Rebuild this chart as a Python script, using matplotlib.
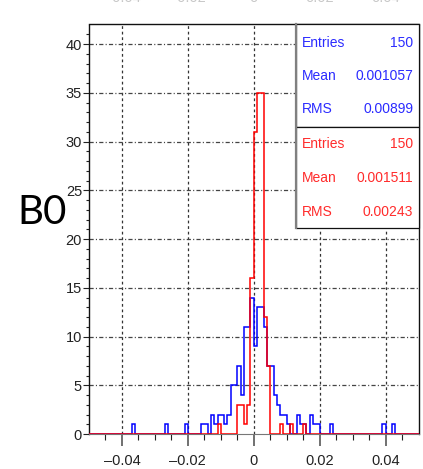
import matplotlib
matplotlib.use("Agg")
import matplotlib.pyplot as plt
import numpy as np
from matplotlib.patches import Rectangle
from matplotlib.lines import Line2D

plt.rcParams["lines.scale_dashes"] = False
plt.rcParams["font.family"] = ["Liberation Sans", "DejaVu Sans"]

# ---- binning of both histograms ----
x_low, x_high, bin_width = -0.05, 0.05, 0.001

# ---- blue histogram: lower bin edge and count of each filled bin ----
blue_bin_low = [-0.037, -0.027, -0.021, -0.016, -0.015, -0.013, -0.012, -0.011,
                -0.010, -0.009, -0.008, -0.007, -0.006, -0.005, -0.004, -0.003,
                -0.002, -0.001, 0.000, 0.001, 0.002, 0.003, 0.004, 0.005,
                0.006, 0.007, 0.008, 0.009, 0.010, 0.013, 0.014, 0.015,
                0.017, 0.018, 0.019, 0.023, 0.039, 0.042]
blue_counts = [1, 1, 1, 1, 1, 2, 1, 2,
               2, 1, 2, 5, 5, 7, 4, 11,
               11, 14, 9, 13, 13, 11, 7, 7,
               4, 3, 2, 2, 1, 2, 1, 1,
               2, 1, 1, 1, 1, 1]

# ---- red histogram ----
red_bin_low = [-0.011, -0.005, -0.004, -0.003, -0.002, -0.001, 0.000, 0.001,
               0.002, 0.003, 0.004, 0.008, 0.011, 0.015]
red_counts = [1, 3, 3, 1, 3, 16, 31, 35, 35, 12, 7, 1, 1, 1]

# ---- statistics boxes ----
stat_names = ["Entries", "Mean", "RMS"]
blue_stats = ["150", "0.001057", "0.00899"]
red_stats = ["150", "0.001511", "0.00243"]

# ---- axis labelling ----
x_major = [-0.04, -0.02, 0.0, 0.02, 0.04]
x_labels = ["\u20130.04", "\u20130.02", "0", "0.02", "0.04"]
y_major = [0, 5, 10, 15, 20, 25, 30, 35, 40]
y_labels = ["0", "5", "10", "15", "20", "25", "30", "35", "40"]
y_top = 42
panel_label = "B0"

BLUE = "#0000ff"
RED = "#ff0000"
BLUE_TXT = "#2b2bff"
RED_TXT = "#ff2b2b"

W, H, DPI = 423, 469, 100
fig = plt.figure(figsize=(W / DPI, H / DPI), dpi=DPI)


def fx(px):
    return px / W


def fy(py):
    return 1 - py / H


ax_l, ax_r, ax_t, ax_b = 89, 418.5, 24.5, 434
ax = fig.add_axes([fx(ax_l), fy(ax_b), fx(ax_r - ax_l), (ax_b - ax_t) / H])

edges = np.round(np.arange(x_low, x_high + bin_width / 2, bin_width), 6)


def filled(lows, counts):
    centers = np.asarray(lows) + bin_width / 2
    h, _ = np.histogram(centers, bins=edges, weights=counts)
    return h


blue_h = filled(blue_bin_low, blue_counts)
red_h = filled(red_bin_low, red_counts)

ax.stairs(blue_h, edges, color=BLUE, lw=1.1, zorder=3)
ax.stairs(red_h, edges, color=RED, lw=1.1, zorder=4)

ax.set_xlim(x_low, x_high)
ax.set_ylim(0, y_top)

# grid
for xv in x_major:
    ax.axvline(xv, color="#333333", lw=0.9, ls=(0, (2.0, 2.0)), zorder=1)
for yv in y_major[1:]:
    ax.axhline(yv, color="#444444", lw=0.9, ls=(0, (3.0, 1.6, 0.8, 1.6)), zorder=1)

# ticks
ax.set_xticks(x_major)
ax.set_xticklabels(x_labels)
ax.set_xticks(np.arange(-0.045, 0.0451, 0.005), minor=True)
ax.set_yticks(y_major)
ax.set_yticklabels(y_labels)
ax.set_yticks(np.arange(0, 42, 1), minor=True)
ax.tick_params(axis="x", which="major", length=8.6, width=1.4, color="#707070",
               pad=6, labelsize=10.5, labelcolor="#222222")
ax.tick_params(axis="x", which="minor", length=4.3, width=0.8, color="#222222")
ax.tick_params(axis="y", which="major", length=4, width=0.8, color="#222222",
               pad=1, labelsize=10.5, labelcolor="#222222")
ax.tick_params(axis="y", which="minor", length=2, width=0.8, color="#222222")

for side in ("left", "top", "right"):
    ax.spines[side].set_color("#111111")
    ax.spines[side].set_linewidth(1.0)
ax.spines["bottom"].set_color("#777777")

# statistics boxes
box_l, box_r, box_mid, box_b = 295.7, 418.8, 126.7, 228.3
for top, bot in ((ax_t, box_mid), (box_mid, box_b)):
    fig.patches.append(Rectangle((fx(box_l), fy(bot)), fx(box_r - box_l), (bot - top) / H,
                                 transform=fig.transFigure, facecolor="white",
                                 edgecolor="#111111", lw=0.9, zorder=5))
fig.lines.append(Line2D([fx(box_l), fx(box_l)], [fy(ax_t), fy(box_b)],
                        transform=fig.transFigure, color="#808080", lw=1.6, zorder=6))

rows_blue = [42.7, 76.5, 109]
rows_red = [144, 178, 212]
for names_y, vals, col in ((rows_blue, blue_stats, BLUE_TXT), (rows_red, red_stats, RED_TXT)):
    for yy, name, val in zip(names_y, stat_names, vals):
        fig.text(fx(302), fy(yy), name, color=col, fontsize=10, ha="left", va="center", zorder=7)
        fig.text(fx(413), fy(yy), val, color=col, fontsize=10, ha="right", va="center", zorder=7)

# tick labels of the panel above, cut by the top edge
for xv, lab in zip(x_major, x_labels):
    xp = ax_l + (xv - x_low) / (x_high - x_low) * (ax_r - ax_l)
    fig.text(fx(xp), fy(2.2), lab, color="#c8c8c8", fontsize=10.5, ha="center", va="baseline")

fig.text(fx(17), fy(212), panel_label, fontsize=29, family=["Lato", "DejaVu Sans"],
         ha="left", va="center", color="black")

fig.savefig("out.png", dpi=DPI)
